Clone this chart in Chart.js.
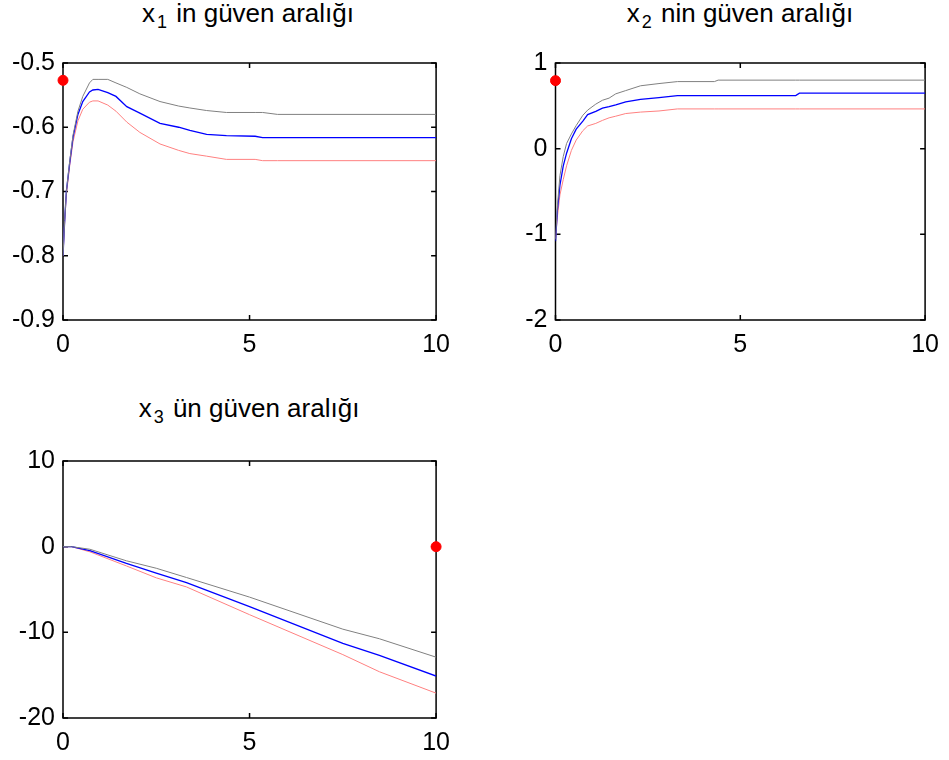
<!DOCTYPE html>
<html>
<head>
<meta charset="utf-8">
<script src="https://cdn.jsdelivr.net/npm/chart.js@4.4.1/dist/chart.umd.min.js"></script>
<style>
    body { margin: 0; background: #fff; width: 949px; height: 760px; position: relative; overflow: hidden; }
    canvas { position: absolute; }
    .title {
        position: absolute; width: 400px; text-align: center;
        font-family: "Liberation Sans", Arial, sans-serif; font-size: 26px; line-height: 26px; color: #000;
    }
    .title sub { font-size: 18px; position: relative; top: 6px; vertical-align: baseline; margin-left: 2px; margin-right: 2px; }
</style>
</head>
<body>
<div class="title" style="left:48px; top:0px;">x<sub>1</sub> in güven aralığı</div>
<div class="title" style="left:540px; top:0px;">x<sub>2</sub> nin güven aralığı</div>
<div class="title" style="left:49px; top:395px;">x<sub>3</sub> ün güven aralığı</div>

<canvas id="chartX1" width="460" height="320" style="left:0; top:40px;"></canvas>
<canvas id="chartX2" width="469" height="320" style="left:480px; top:40px;"></canvas>
<canvas id="chartX3" width="460" height="320" style="left:0; top:438px;"></canvas>

<script>
// x1 - zaman ve sınırlar
const t1 = [0, 0.045, 0.09, 0.18, 0.27, 0.4, 0.53, 0.71, 0.8, 0.94, 1.2, 1.42, 1.71, 2.06, 2.6, 3.1, 3.4, 3.85, 4.38, 5.15, 5.35, 5.75, 10];
const x1Upper = [-0.8, -0.745, -0.70, -0.653, -0.612, -0.575, -0.552, -0.531, -0.5255, -0.5255, -0.5255, -0.531, -0.538, -0.548, -0.56, -0.567, -0.570, -0.574, -0.577, -0.577, -0.577, -0.580, -0.580];
const x1Mean = [-0.8, -0.745, -0.70, -0.655, -0.615, -0.58, -0.56, -0.545, -0.542, -0.541, -0.546, -0.552, -0.568, -0.578, -0.594, -0.600, -0.605, -0.611, -0.613, -0.614, -0.616, -0.616, -0.616];
const x1Lower = [-0.8, -0.748, -0.705, -0.66, -0.622, -0.59, -0.572, -0.561, -0.559, -0.559, -0.5655, -0.575, -0.592, -0.608, -0.626, -0.636, -0.641, -0.645, -0.650, -0.650, -0.652, -0.652, -0.652];
const x1Point = { x: 0, y: -0.527 };

// x2
const t2 = [0, 0.05, 0.12, 0.21, 0.3, 0.43, 0.56, 0.74, 0.87, 1.09, 1.27, 1.45, 1.63, 1.9, 2.3, 2.8, 3.3, 4.3, 4.4, 6.5, 6.6, 10];
const x2Upper = [-1.06, -0.68, -0.315, -0.09, 0.06, 0.172, 0.27, 0.39, 0.45, 0.52, 0.565, 0.59, 0.64, 0.678, 0.734, 0.76, 0.783, 0.783, 0.80, 0.80, 0.80, 0.80];
const x2Mean = [-1.08, -0.727, -0.427, -0.20, -0.053, 0.116, 0.228, 0.322, 0.397, 0.435, 0.472, 0.49, 0.51, 0.545, 0.576, 0.596, 0.62, 0.62, 0.62, 0.62, 0.648, 0.648];
const x2Lower = [-1.05, -0.80, -0.54, -0.36, -0.20, -0.02, 0.10, 0.21, 0.265, 0.295, 0.33, 0.36, 0.379, 0.41, 0.427, 0.44, 0.464, 0.464, 0.464, 0.464, 0.464, 0.464];
const x2Point = { x: 0, y: 0.794 };

// x3
const t3 = [0, 0.23, 0.72, 1.7, 2.5, 3.31, 5, 7.5, 8.48, 10];
const x3Upper = [0, 0, -0.3, -1.65, -2.52, -3.6, -5.89, -9.63, -10.75, -12.9];
const x3Mean = [0, 0, -0.45, -1.95, -3.08, -4.2, -7.0, -11.3, -12.7, -15.1];
const x3Lower = [0, 0, -0.6, -2.25, -3.64, -4.7, -7.94, -12.6, -14.6, -17.1];
const x3Point = { x: 10, y: 0 };

const xTicks = [0, 5, 10];
const y1Ticks = [-0.9, -0.8, -0.7, -0.6, -0.5];
const y2Ticks = [-2, -1, 0, 1];
const y3Ticks = [-20, -10, 0, 10];

const FONT = { family: '"Liberation Sans", Arial, sans-serif', size: 25 };

function pairs(xs, ys) {
    return xs.map((x, i) => ({ x: x, y: ys[i] }));
}

// kutu çerçevesi ve içe doğru tik işaretleri
const boxPlugin = {
    id: 'matlabBox',
    beforeDatasetsDraw(chart) {
        const { ctx, chartArea: a, scales } = chart;
        ctx.save();
        ctx.strokeStyle = '#000';
        ctx.lineWidth = 1.5;
        ctx.strokeRect(a.left, a.top, a.right - a.left, a.bottom - a.top);
        ctx.beginPath();
        scales.x.ticks.forEach(t => {
            const px = scales.x.getPixelForValue(t.value);
            ctx.moveTo(px, a.bottom); ctx.lineTo(px, a.bottom - 5);
            ctx.moveTo(px, a.top); ctx.lineTo(px, a.top + 5);
        });
        scales.y.ticks.forEach(t => {
            const py = scales.y.getPixelForValue(t.value);
            ctx.moveTo(a.left, py); ctx.lineTo(a.left + 5, py);
            ctx.moveTo(a.right, py); ctx.lineTo(a.right - 5, py);
        });
        ctx.stroke();
        ctx.restore();
    }
};

function makePanel(id, t, upper, mean, lower, point, yTicks, yWidth, padRight, decimals) {
    const ctx = document.getElementById(id).getContext('2d');
    return new Chart(ctx, {
        type: 'line',
        data: {
            datasets: [
                { data: pairs(t, upper), borderColor: '#808080', borderWidth: 1 },
                { data: pairs(t, mean), borderColor: '#0000ff', borderWidth: 1.3 },
                { data: pairs(t, lower), borderColor: '#ff8080', borderWidth: 1 },
                {
                    type: 'scatter', data: [point], pointRadius: 5,
                    backgroundColor: '#ff0000', borderColor: '#ff0000', clip: false
                }
            ]
        },
        options: {
            responsive: false,
            animation: false,
            elements: { point: { radius: 0 }, line: { tension: 0 } },
            layout: { autoPadding: false, padding: { top: 13, right: padRight, left: 0, bottom: 0 } },
            plugins: {
                legend: { display: false },
                tooltip: { enabled: false }
            },
            scales: {
                x: {
                    type: 'linear',
                    min: xTicks[0],
                    max: xTicks[xTicks.length - 1],
                    afterBuildTicks: s => { s.ticks = xTicks.map(v => ({ value: v })); },
                    afterFit: s => { s.height = 40; },
                    grid: { display: false, drawTicks: false },
                    border: { display: false },
                    ticks: { color: '#000', font: FONT, padding: 10, maxRotation: 0 }
                },
                y: {
                    type: 'linear',
                    min: yTicks[0],
                    max: yTicks[yTicks.length - 1],
                    afterBuildTicks: s => { s.ticks = yTicks.map(v => ({ value: v })); },
                    afterFit: s => { s.width = yWidth; },
                    grid: { display: false, drawTicks: false },
                    border: { display: false },
                    ticks: {
                        color: '#000', font: FONT, padding: 8,
                        callback: v => v.toFixed(decimals)
                    }
                }
            }
        },
        plugins: [boxPlugin]
    });
}

const chartX1 = makePanel('chartX1', t1, x1Upper, x1Mean, x1Lower, x1Point, y1Ticks, 63, 23, 1);
const chartX2 = makePanel('chartX2', t2, x2Upper, x2Mean, x2Lower, x2Point, y2Ticks, 75.5, 17, 0);
const chartX3 = makePanel('chartX3', t3, x3Upper, x3Mean, x3Lower, x3Point, y3Ticks, 63, 23, 0);
</script>
</body>
</html>
